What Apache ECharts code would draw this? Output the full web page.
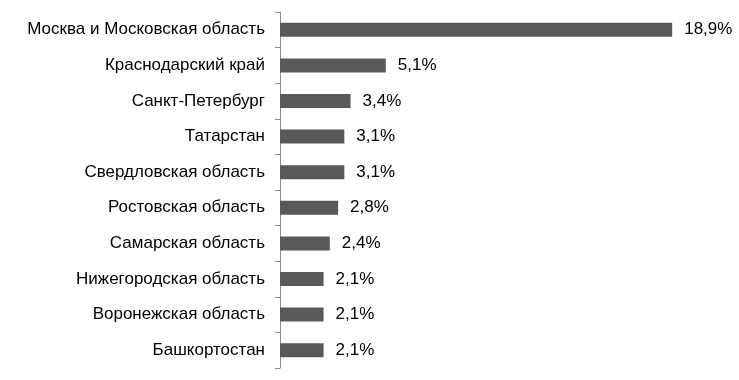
<!DOCTYPE html>
<html><head><meta charset="utf-8">
<script src="https://cdn.jsdelivr.net/npm/echarts@6/dist/echarts.min.js"></script>
<style>html,body{margin:0;padding:0;background:#fff}#c{width:739px;height:380px}</style>
</head><body><div id="c"></div>
<script>
const categories = ["Москва и Московская область","Краснодарский край","Санкт-Петербург","Татарстан","Свердловская область","Ростовская область","Самарская область","Нижегородская область","Воронежская область","Башкортостан"];
const values = [18.9,5.1,3.4,3.1,3.1,2.8,2.4,2.1,2.1,2.1];

const chart = echarts.init(document.getElementById('c'));
chart.setOption({
  animation:false,
  grid:{left:280,top:12,width:415,height:356,containLabel:false},
  xAxis:{type:'value',min:0,max:20,show:false},
  yAxis:{type:'category',data:categories,inverse:true,
    axisLine:{show:true,lineStyle:{color:'#8c8c8c',width:1}},
    axisTick:{show:true,length:5,alignWithLabel:false,lineStyle:{color:'#8c8c8c',width:1}},
    axisLabel:{margin:15,color:'#000',fontSize:17,fontFamily:'Liberation Sans, Arial, sans-serif'}},
  series:[{type:'bar',data:values,barWidth:14,
    itemStyle:{color:'#595959'},
    label:{show:true,position:'right',distance:12,color:'#000',fontSize:17,fontFamily:'Liberation Sans, Arial, sans-serif',
      formatter:p=>String(p.value).replace('.',',')+'%'}}]
});
</script></body></html>
